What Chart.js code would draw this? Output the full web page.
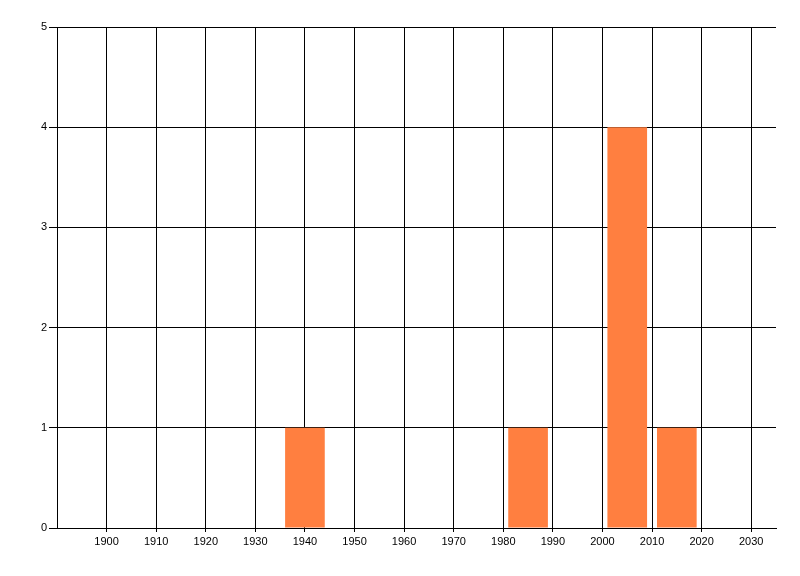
<!DOCTYPE html>
<html>
<head>
<meta charset="utf-8">
<script src="https://cdn.jsdelivr.net/npm/chart.js@4/dist/chart.umd.min.js"></script>
<style>
  html, body { margin: 0; padding: 0; background: #fff; }
  #wrap { width: 800px; height: 576px; }
</style>
</head>
<body>
<div id="wrap"><canvas id="histChart" width="800" height="576"></canvas></div>
<script>
// decade bins and their counts
const years = [1940, 1985, 2005, 2015];
const counts = [1, 1, 4, 1];
const xTicks = [1900, 1910, 1920, 1930, 1940, 1950, 1960, 1970, 1980, 1990, 2000, 2010, 2020, 2030];
const yTicks = [0, 1, 2, 3, 4, 5];

const ctx = document.getElementById('histChart').getContext('2d');
new Chart(ctx, {
  type: 'bar',
  data: {
    datasets: [{
      data: years.map((x, i) => ({ x: x, y: counts[i] })),
      backgroundColor: '#FF7F40',
      borderWidth: 0,
      barPercentage: 1,
      categoryPercentage: 0.8
    }]
  },
  options: {
    responsive: false,
    animation: false,
    layout: { padding: { top: 27, right: 24, left: 0, bottom: 0 } },
    plugins: { legend: { display: false }, tooltip: { enabled: false } },
    scales: {
      x: {
        type: 'linear',
        min: 1890,
        max: 2035,
        offset: false,
        afterBuildTicks: s => { s.ticks = xTicks.map(v => ({ value: v })); },
        afterFit: s => { s.height = 48; },
        grid: { color: '#000', lineWidth: 1, offset: false, drawTicks: true, tickLength: 4 },
        border: { color: '#000', width: 1 },
        ticks: {
          color: '#000',
          padding: 3,
          maxRotation: 0,
          autoSkip: false,
          font: { family: 'Liberation Sans', size: 11 },
          callback: v => String(v)
        }
      },
      y: {
        min: 0,
        max: 5,
        afterBuildTicks: s => { s.ticks = yTicks.map(v => ({ value: v })); },
        afterFit: s => { s.width = 57; },
        grid: { color: '#000', lineWidth: 1, drawTicks: true, tickLength: 8 },
        border: { color: '#000', width: 1 },
        ticks: {
          color: '#000',
          padding: 2,
          font: { family: 'Liberation Sans', size: 11 }
        }
      }
    }
  }
});
</script>
</body>
</html>
